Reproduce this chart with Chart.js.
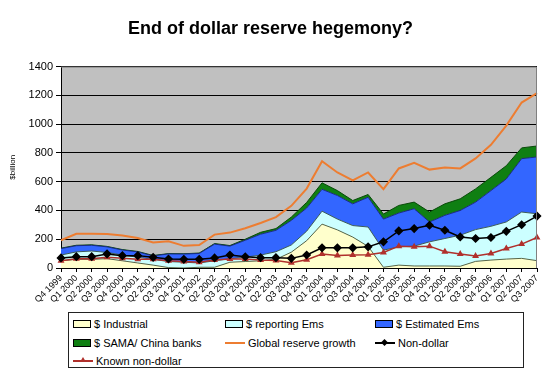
<!DOCTYPE html>
<html><head><meta charset="utf-8">
<script src="https://cdn.jsdelivr.net/npm/chart.js@4/dist/chart.umd.min.js"></script>
<style>
html,body{margin:0;padding:0;background:#fff;}
#wrap{position:relative;width:547px;height:374px;overflow:hidden;}
#c{position:absolute;left:0;top:0;}
#legend{position:absolute;left:68px;top:312px;width:456px;height:56px;border:1px solid #222;box-sizing:border-box;font:11px Arial,"Liberation Sans",sans-serif;color:#000;background:#fff;}
.item{position:absolute;height:13px;display:flex;align-items:center;white-space:nowrap;}
.sw{width:18px;height:8px;border:1px solid #000;box-sizing:border-box;margin-right:3px;}
.ln{position:relative;width:20px;height:2px;margin-right:3px;}
.dia{position:absolute;left:7px;top:-2px;width:5px;height:5px;background:#000;transform:rotate(45deg);}
.tri{position:absolute;left:7px;top:-3px;width:0;height:0;border-left:3px solid transparent;border-right:3px solid transparent;border-bottom:5px solid #b0302c;}
</style></head>
<body>
<div id="wrap">
<canvas id="c" width="547" height="374"></canvas>
<div id="legend"></div>
</div>
<script>
const quarters = ["Q4 1999","Q1 2000","Q2 2000","Q3 2000","Q4 2000","Q1 2001","Q2 2001","Q3 2001","Q4 2001","Q1 2002","Q2 2002","Q3 2002","Q4 2002","Q1 2003","Q2 2003","Q3 2003","Q4 2003","Q1 2004","Q2 2004","Q3 2004","Q4 2004","Q1 2005","Q2 2005","Q3 2005","Q4 2005","Q1 2006","Q2 2006","Q3 2006","Q4 2006","Q1 2007","Q2 2007","Q3 2007"];
const industrial = [50,60,60,65,50,35,20,3,0,5,5,40,45,50,60,110,190,305,265,215,150,5,20,14,14,14,12,46,55,62,67,51];
const reportingEms = [40,52,58,43,40,40,40,42,40,30,45,25,30,40,53,50,66,90,75,80,135,119,127,138,168,191,216,221,235,258,322,326];
const estimatedEms = [45,43,40,39,35,37,24,53,57,66,116,87,118,145,149,171,161,152,164,151,207,216,235,260,138,161,172,191,248,299,371,395];
const samaChina = [3,3,3,3,3,3,3,2,2,3,4,4,7,13,12,23,39,45,34,23,19,35,53,46,69,80,81,92,92,92,75,76];
const globalGrowth = [193,238,238,237,226,209,177,186,154,160,232,246,276,313,354,432,552,742,664,609,664,548,692,731,684,699,692,762,856,990,1150,1215];
const nonDollar = [70,79,79,98,86,86,74,63,60,60,70,90,78,72,72,67,90,140,140,140,147,182,258,274,297,262,216,205,212,255,301,361];
const knownNonDollar = [51,65,65,74,67,60,60,51,45,40,55,62,62,55,52,37,58,97,87,90,92,108,152,147,152,113,97,83,101,136,166,212];
const yTicks = [0,200,400,600,800,1000,1200,1400];

const FONT = 'Arial, "Liberation Sans", sans-serif';

const bgPlugin = {
  id: 'bg',
  beforeDraw(chart) {
    const a = chart.chartArea, ctx = chart.ctx;
    ctx.save();
    ctx.fillStyle = '#c0c0c0';
    ctx.fillRect(a.left, a.top, a.right - a.left, a.bottom - a.top);
    ctx.restore();
  },
  afterDraw(chart) {
    const a = chart.chartArea, ctx = chart.ctx;
    ctx.save();
    ctx.strokeStyle = '#808080';
    ctx.lineWidth = 1;
    ctx.beginPath();
    ctx.moveTo(a.left, a.top + 0.5);
    ctx.lineTo(a.right - 0.5, a.top + 0.5);
    ctx.lineTo(a.right - 0.5, a.bottom);
    ctx.stroke();
    ctx.restore();
  }
};

function area(label, data, bg, border, fill) {
  return {label, data, backgroundColor: bg, borderColor: border, borderWidth: 1,
    fill, stack: 'res', pointRadius: 0, tension: 0, order: 10};
}

new Chart(document.getElementById('c'), {
  type: 'line',
  data: {
    labels: quarters,
    datasets: [
      area('$ Industrial', industrial, '#ffffcc', '#55664a', 'origin'),
      area('$ reporting Ems', reportingEms, '#ccffff', '#3a5a5a', '-1'),
      area('$ Estimated Ems', estimatedEms, '#3366ff', '#1a2a80', '-1'),
      area('$ SAMA/ China banks', samaChina, '#0f7f12', '#0a4a0a', '-1'),
      {label: 'Global reserve growth', data: globalGrowth, borderColor: '#ed7d31', borderWidth: 2,
       fill: false, stack: 'g', pointRadius: 0, tension: 0, order: 3},
      {label: 'Non-dollar', data: nonDollar, borderColor: '#000', backgroundColor: '#000', borderWidth: 1.5,
       fill: false, stack: 'n', pointStyle: 'rectRot', pointRadius: 3.5, tension: 0, order: 1},
      {label: 'Known non-dollar', data: knownNonDollar, borderColor: '#b0302c', backgroundColor: '#b0302c', borderWidth: 1.5,
       fill: false, stack: 'k', pointStyle: 'triangle', pointRadius: 2.5, tension: 0, order: 2}
    ]
  },
  options: {
    responsive: false,
    animation: false,
    layout: {padding: {left: 4, right: 10, top: 0, bottom: 61}},
    plugins: {
      legend: {display: false},
      tooltip: {enabled: false},
      title: {display: true, text: 'End of dollar reserve hegemony?', color: '#000',
        font: {family: FONT, size: 18, weight: 'bold'}, padding: {top: 18, bottom: 27}}
    },
    scales: {
      x: {
        offset: false,
        grid: {display: true, drawOnChartArea: false, drawTicks: true, tickLength: 4, color: '#000'},
        border: {display: true, color: '#000'},
        ticks: {autoSkip: false, maxRotation: 45, minRotation: 45, color: '#000', padding: 1,
          font: {family: FONT, size: 9}},
        afterFit(s) { s.height = 45; }
      },
      y: {
        stacked: true,
        min: 0, max: 1400,
        afterBuildTicks(s) { s.ticks = yTicks.map(v => ({value: v})); },
        grid: {color: '#000', tickLength: 5, drawTicks: true},
        border: {display: true, color: '#000'},
        ticks: {color: '#000', padding: 3, font: {family: FONT, size: 11}, callback: v => String(v)},
        title: {display: true, text: '$billion', color: '#000', font: {family: FONT, size: 8}, padding: {top: 4, bottom: 0}},
        afterFit(s) { s.width = 57; }
      }
    }
  },
  plugins: [bgPlugin]
});

// HTML legend (real text)
const legendItems = [
  {t: '$ Industrial', type: 'sw', c: '#ffffcc', col: 0, row: 0},
  {t: '$ reporting Ems', type: 'sw', c: '#ccffff', col: 1, row: 0},
  {t: '$ Estimated Ems', type: 'sw', c: '#3366ff', col: 2, row: 0},
  {t: '$ SAMA/ China banks', type: 'sw', c: '#0f7f12', col: 0, row: 1},
  {t: 'Global reserve growth', type: 'ln', c: '#ed7d31', col: 1, row: 1},
  {t: 'Non-dollar', type: 'ln', c: '#000', m: 'dia', col: 2, row: 1},
  {t: 'Known non-dollar', type: 'ln', c: '#b0302c', m: 'tri', col: 0, row: 2}
];
const colX = [4, 156, 306], rowY = [4, 23, 41];
const lg = document.getElementById('legend');
legendItems.forEach(it => {
  const d = document.createElement('div');
  d.className = 'item';
  d.style.left = colX[it.col] + 'px';
  d.style.top = rowY[it.row] + 'px';
  const m = document.createElement('span');
  m.className = it.type;
  m.style.background = it.c;
  if (it.m) { const k = document.createElement('span'); k.className = it.m; m.appendChild(k); }
  d.appendChild(m);
  const s = document.createElement('span');
  s.textContent = it.t;
  d.appendChild(s);
  lg.appendChild(d);
});
</script>
</body></html>
